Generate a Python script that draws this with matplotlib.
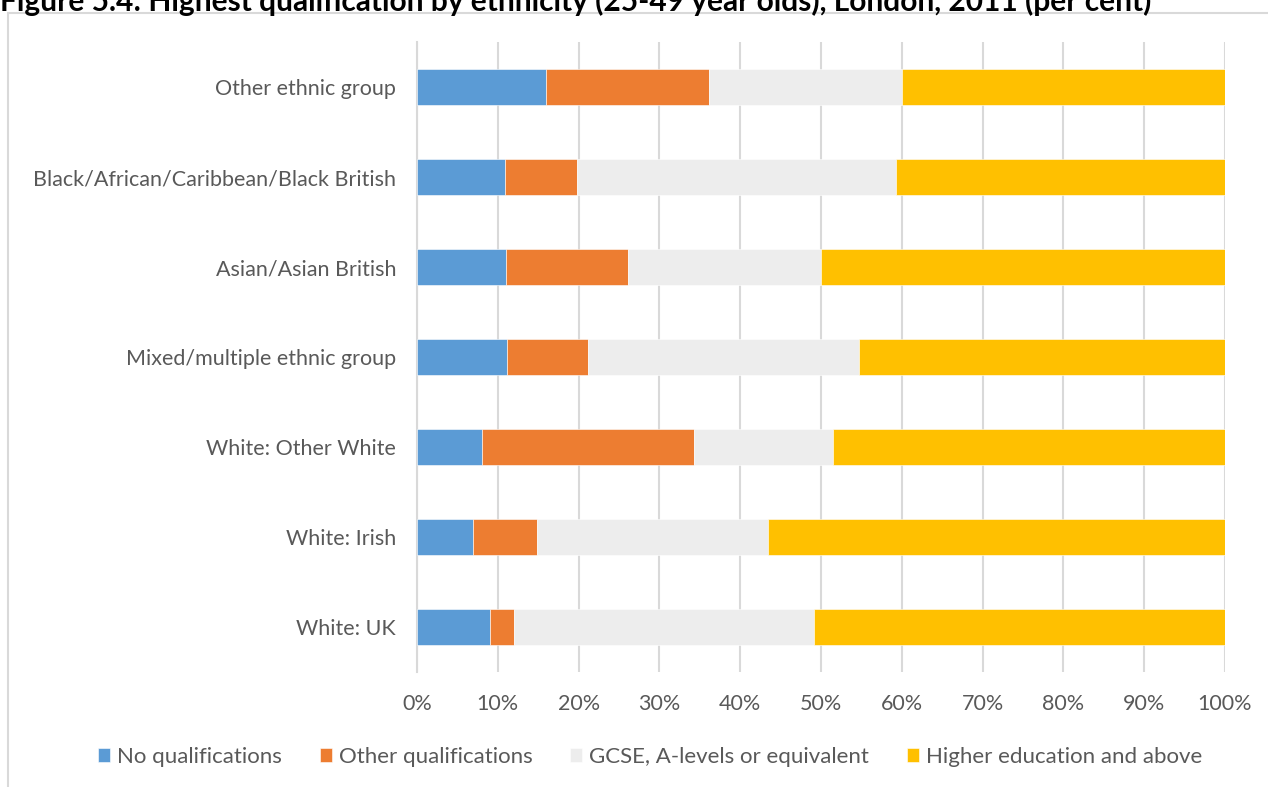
import numpy as np
import matplotlib
matplotlib.use("Agg")
import matplotlib.pyplot as plt
from matplotlib.patches import Rectangle

# categories bottom to top
groups = ["White: UK", "White: Irish", "White: Other White",
          "Mixed/multiple ethnic group", "Asian/Asian British",
          "Black/African/Caribbean/Black British", "Other ethnic group"]

no_qual = [9.0, 6.9, 8.0, 11.2, 11.0, 10.9, 16.0]
other_qual = [3.0, 7.9, 26.3, 10.0, 15.1, 8.9, 20.1]
gcse = [37.1, 28.7, 17.2, 33.5, 23.9, 39.5, 23.9]
higher = [50.9, 56.5, 48.5, 45.3, 50.0, 40.7, 40.0]

series_names = ["No qualifications", "Other qualifications",
                "GCSE, A-levels or equivalent", "Higher education and above"]
colors = ["#5B9BD5", "#ED7D31", "#EDEDED", "#FFC000"]

plt.rcParams["font.family"] = ["Lato", "DejaVu Sans"]

W, H = 1268, 787
fig = plt.figure(figsize=(W / 100, H / 100), dpi=100)

# chart border
fig.patches.append(Rectangle((8 / W, -0.05), 1.2, (H - 13) / H + 0.05,
                             transform=fig.transFigure, fill=False,
                             edgecolor="#D9D9D9", linewidth=1.5))

# title, cut off at the top like the source image
fig.text(0.0, 1.0 - 1 / H, "Figure 5.4: Highest qualification by ethnicity (25-49 year olds), London, 2011 (per cent)",
         fontsize=21.5, fontweight="bold", color="black", ha="left", va="center")

ax = fig.add_axes([417 / W, 1 - 672 / H, (1225 - 417) / W, (672 - 42) / H])

y = np.arange(len(groups))
data = [no_qual, other_qual, gcse, higher]
left = np.zeros(len(groups))
for vals, name, c in zip(data, series_names, colors):
    vals = np.array(vals)
    ax.barh(y, vals, left=left, height=0.39, color=c, label=name,
            edgecolor="white", linewidth=0.4, zorder=3)
    left += vals

ax.set_xlim(0, 100)
ax.set_ylim(-0.5, len(groups) - 0.5)
ax.set_xticks(np.arange(0, 101, 10))
ax.set_xticklabels([f"{v}%" for v in range(0, 101, 10)])
ax.set_yticks(y)
ax.set_yticklabels(groups)
ax.grid(axis="x", color="#D9D9D9", linewidth=1.5, zorder=0)
for s in ["top", "right", "bottom"]:
    ax.spines[s].set_visible(False)
ax.spines["left"].set_color("#D9D9D9")
ax.spines["left"].set_linewidth(1.5)
ax.tick_params(length=0, labelsize=15.5, colors="#595959")
ax.tick_params(axis="x", pad=16)
ax.tick_params(axis="y", pad=15)

handles, labels = ax.get_legend_handles_labels()
fig.legend(handles, labels, loc="center", bbox_to_anchor=(650 / W, 1 - 757 / H),
           ncol=4, frameon=False, fontsize=16, labelcolor="#595959",
           handlelength=0.55, handleheight=0.55, handletextpad=0.3, columnspacing=1.7)

fig.savefig("out.png", dpi=100)
